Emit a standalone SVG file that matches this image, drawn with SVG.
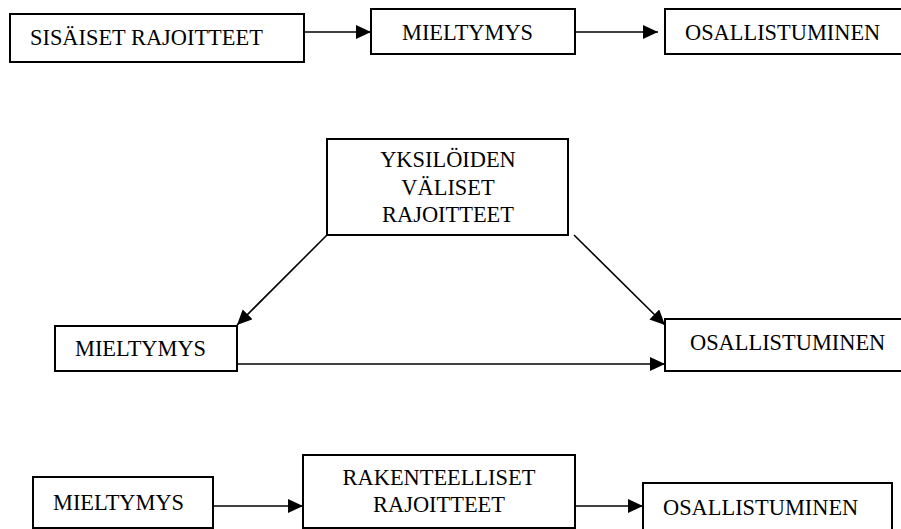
<svg xmlns="http://www.w3.org/2000/svg" width="901" height="529" viewBox="0 0 901 529">
<defs>
<style>
.box{fill:#fff;stroke:#000;stroke-width:2}
.t{font-family:"Liberation Serif","Times New Roman",serif;font-size:22.4px;fill:#000}
.c{text-anchor:middle}
.ln{stroke:#000;stroke-width:1.6;fill:none}
</style>
<marker id="ah" markerUnits="userSpaceOnUse" markerWidth="16" markerHeight="15" refX="15" refY="7" orient="auto">
<path d="M0,0 L15,7 L0,14 z" fill="#000"/>
</marker>
</defs>
<rect width="901" height="529" fill="#fff"/>
<g id="connectors">
<line class="ln" x1="304" y1="32" x2="371" y2="32" marker-end="url(#ah)"/>
<line class="ln" x1="575" y1="32" x2="658" y2="32" marker-end="url(#ah)"/>
<line class="ln" x1="327" y1="235" x2="237" y2="325" marker-end="url(#ah)"/>
<line class="ln" x1="574" y1="235" x2="665" y2="325" marker-end="url(#ah)"/>
<line class="ln" x1="237" y1="364" x2="665" y2="364" marker-end="url(#ah)"/>
<line class="ln" x1="213" y1="506" x2="303" y2="506" marker-end="url(#ah)"/>
<line class="ln" x1="575" y1="506" x2="643" y2="506" marker-end="url(#ah)"/>
</g>
<g id="sisaiset">
<rect class="box" x="10" y="14" width="294" height="48"/>
<text class="t" x="30" y="45">SISÄISET RAJOITTEET</text>
</g>
<g id="mieltymys1">
<rect class="box" x="371" y="9" width="204" height="45"/>
<text class="t" x="402" y="40">MIELTYMYS</text>
</g>
<g id="osallistuminen1">
<rect class="box" x="665" y="9" width="240" height="45"/>
<text class="t" x="685" y="40">OSALLISTUMINEN</text>
</g>
<g id="yksiloiden">
<rect class="box" x="327" y="139" width="241" height="96"/>
<text class="t c" x="448" y="167">YKSILÖIDEN</text>
<text class="t c" x="448" y="195">VÄLISET</text>
<text class="t c" x="448" y="222">RAJOITTEET</text>
</g>
<g id="mieltymys2">
<rect class="box" x="55" y="326" width="182" height="45"/>
<text class="t" x="75" y="356">MIELTYMYS</text>
</g>
<g id="osallistuminen2">
<rect class="box" x="665" y="319" width="240" height="52"/>
<text class="t" x="690" y="350">OSALLISTUMINEN</text>
</g>
<g id="mieltymys3">
<rect class="box" x="33" y="477" width="180" height="51"/>
<text class="t" x="53" y="510">MIELTYMYS</text>
</g>
<g id="rakenteelliset">
<rect class="box" x="303" y="455" width="272" height="73"/>
<text class="t c" x="439" y="485">RAKENTEELLISET</text>
<text class="t c" x="439" y="512">RAJOITTEET</text>
</g>
<g id="osallistuminen3">
<rect class="box" x="643" y="483" width="249" height="50"/>
<text class="t" x="663" y="515">OSALLISTUMINEN</text>
</g>
</svg>
